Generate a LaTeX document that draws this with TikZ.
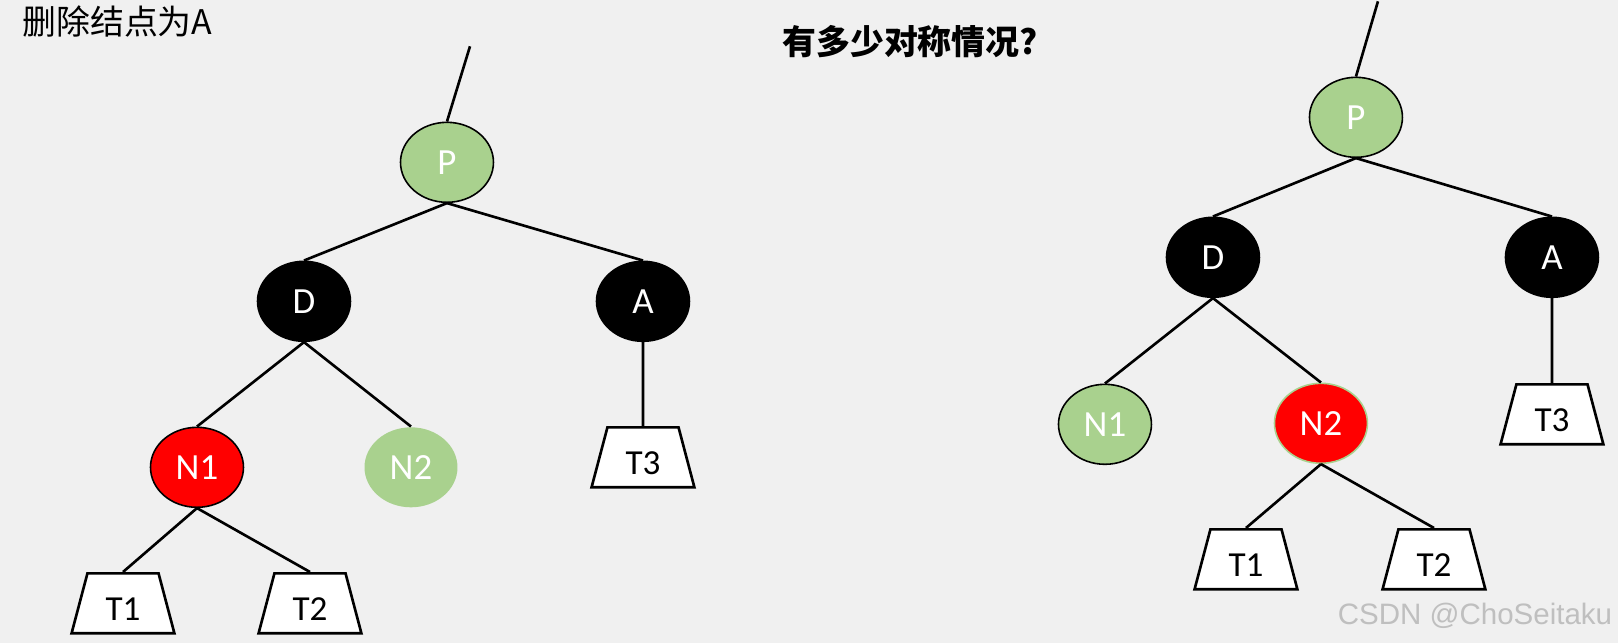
\documentclass[tikz,border=0pt]{standalone}
\usepackage{fontspec}
\setmainfont{Carlito}
\newfontfamily\cjk{Noto Sans CJK SC}
\newfontfamily\wmark{Liberation Sans}
\usepackage{xcolor}
\usetikzlibrary{shapes.geometric}
\definecolor{bgray}{HTML}{F0F0F0}
\definecolor{leafgreen}{HTML}{A9D18E}
\definecolor{nodered}{HTML}{FF0000}

\begin{document}
\begin{tikzpicture}[x=0.02cm,y=-0.02cm,
   rbnode/.style={ellipse,minimum width=1.86cm,minimum height=1.6cm,inner sep=0pt,
               text=white,font=\fontsize{21}{21}\selectfont,line width=0.9pt},
   blk/.style={rbnode,draw=black,fill=black},
   rd/.style={rbnode,draw=black,fill=nodered},
   grn/.style={rbnode,draw=black,fill=leafgreen},
   sub/.style={trapezium,trapezium stretches=true,trapezium left angle=77,
               trapezium right angle=77,minimum width=2.06cm,minimum height=1.2cm,
               text height=19pt,text depth=0pt,
               draw,line width=1.5pt,fill=white,font=\fontsize{20}{20}\selectfont},
   edge/.style={line width=1.5pt}
  ]
  \fill[bgray] (0,0) rectangle (1618,643);

  % titles
  \node[anchor=west,inner sep=0pt,font=\cjk\fontsize{19.3}{19.3}\selectfont] (ttl) at (22,21) {删除结点为A};
  \node[anchor=west,inner sep=0pt,font=\cjk\bfseries\fontsize{19.3}{19.3}\selectfont] (ttr) at (782,41) {有多少对称情况?};

  % left tree
  \node[grn] (pl) at (447,162) {P};
  \coordinate (upl) at (470,46);
  \node[blk] (dl) at (304,301) {D};
  \node[blk] (al) at (643,301) {A};
  \node[rd] (n1l) at (197,467) {N1};
  \node[rbnode,fill=leafgreen] (n2l) at (411,467) {N2};
  \node[sub] (t1l) at (123,603) {T1};
  \node[sub] (t2l) at (310,603) {T2};
  \node[sub] (t3l) at (643,457) {T3};

  \draw[edge] (pl.north) -- (upl);
  \draw[edge] (pl.south) -- (dl.north);
  \draw[edge] (pl.south) -- (al.north);
  \draw[edge] (dl.south) -- (n1l.north);
  \draw[edge] (dl.south) -- (n2l.north);
  \draw[edge] (n1l.south) -- (t1l.north);
  \draw[edge] (n1l.south) -- (t2l.north);
  \draw[edge] (al.south) -- (t3l.north);

  % right tree
  \node[grn] (pr) at (1356,117) {P};
  \coordinate (upr) at (1378,1);
  \node[blk] (dr) at (1213,257) {D};
  \node[blk] (ar) at (1552,257) {A};
  \node[grn] (n1r) at (1105,424) {N1};
  \node[rbnode,draw=leafgreen,fill=nodered] (n2r) at (1321,423) {N2};
  \node[sub] (t1r) at (1246,559) {T1};
  \node[sub] (t2r) at (1434,559) {T2};
  \node[sub] (t3r) at (1552,414) {T3};

  \draw[edge] (pr.north) -- (upr);
  \draw[edge] (pr.south) -- (dr.north);
  \draw[edge] (pr.south) -- (ar.north);
  \draw[edge] (dr.south) -- (n1r.north);
  \draw[edge] (dr.south) -- (n2r.north);
  \draw[edge] (n2r.south) -- (t1r.north);
  \draw[edge] (n2r.south) -- (t2r.north);
  \draw[edge] (ar.south) -- (t3r.north);

  % watermark
  \node[font=\wmark\fontsize{16.8}{16.8}\selectfont,text=black!25] (wm) at (1475,616) {CSDN @ChoSeitaku};
\end{tikzpicture}
\end{document}
